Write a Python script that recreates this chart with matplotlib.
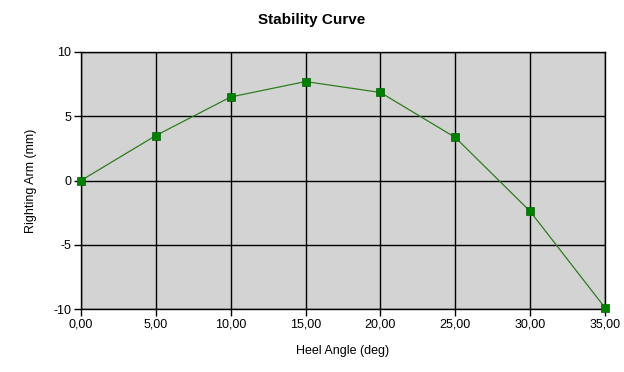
import matplotlib
matplotlib.use("Agg")
import matplotlib.pyplot as plt

heel_angle = [0, 5, 10, 15, 20, 25, 30, 35]
righting_arm = [0.0, 3.5, 6.5, 7.7, 6.85, 3.35, -2.4, -9.9]
x_ticks = [0, 5, 10, 15, 20, 25, 30, 35]
x_tick_labels = ["0,00", "5,00", "10,00", "15,00", "20,00", "25,00", "30,00", "35,00"]
y_ticks = [-10, -5, 0, 5, 10]

plt.rcParams['font.family'] = ['Liberation Sans', 'DejaVu Sans']
plt.rcParams['axes.unicode_minus'] = False

fig = plt.figure(figsize=(6.24, 3.72), dpi=100)
ax = fig.add_axes([81/624, 1-309/372, (605-81)/624, (309-52)/372])
ax.set_facecolor('#d3d3d3')
ax.plot(heel_angle, righting_arm, color='#2e7d1e', lw=0.9, marker='s',
        markersize=5.5, markerfacecolor='#008000', markeredgecolor='#006400',
        markeredgewidth=0.5, zorder=3, clip_on=False)
ax.set_xlim(0, 35)
ax.set_ylim(-10, 10)
ax.set_xticks(x_ticks)
ax.set_xticklabels(x_tick_labels)
ax.set_yticks(y_ticks)
ax.grid(True, color='black', lw=1.0)
ax.set_axisbelow(True)
for s in ax.spines.values():
    s.set_color('black')
    s.set_linewidth(1.0)
ax.tick_params(axis='both', length=5, width=1, color='black', labelsize=9, pad=2)
ax.set_xlabel('Heel Angle (deg)', fontsize=9, labelpad=10)
ax.set_ylabel('Righting Arm (mm)', fontsize=9, labelpad=12)
fig.text(0.5, 1-20/372, 'Stability Curve', ha='center', va='center',
         fontsize=11, fontweight='bold')
fig.savefig('out.png', dpi=100, facecolor='white')
